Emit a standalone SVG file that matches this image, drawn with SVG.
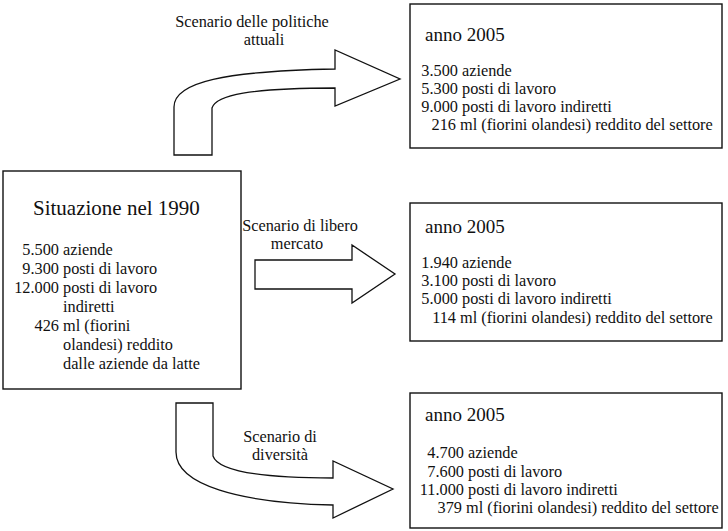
<svg xmlns="http://www.w3.org/2000/svg" width="728" height="531" viewBox="0 0 728 531">
  <style>
    .box { fill: #fff; stroke: #111; stroke-width: 1.4; }
    .arrow { fill: #fff; stroke: #111; stroke-width: 1.3; stroke-linejoin: miter; }
    text { font-family: "Liberation Serif", "Times New Roman", serif; fill: #111; }
    .title { font-size: 21px; }
    .head { font-size: 19px; }
    .body { font-size: 16.3px; }
    .label { font-size: 16.3px; text-anchor: middle; }
    .num { text-anchor: end; }
  </style>

  <rect width="728" height="531" fill="#fff"/>

  <!-- connectors: block arrows from the 1990 situation to the three scenarios -->
  <g id="connectors">
    <path class="arrow" d="M174,155 V107 C174,82 225,71 335,69 V50 L400,79 L335,106 V88 C250,88 216,95 212,108 V155 Z"/>
    <path class="arrow" d="M255,260 H352 V245 L395,274 L352,303 V289 H255 Z"/>
    <path class="arrow" d="M176,403 H213 V456 C218,471 260,478 333,478 V461 L393,489 L333,518 V505 C240,503 176,485 176,452 Z"/>
    <text class="label" x="252" y="27">Scenario delle politiche</text>
    <text class="label" x="264" y="45">attuali</text>
    <text class="label" x="300" y="231">Scenario di libero</text>
    <text class="label" x="297" y="249">mercato</text>
    <text class="label" x="280" y="442">Scenario di</text>
    <text class="label" x="280" y="460">diversità</text>
  </g>

  <!-- 1990 situation -->
  <g id="situazione-1990">
    <rect class="box" x="3" y="171" width="238" height="218"/>
    <text class="title" x="33" y="215">Situazione nel 1990</text>
    <g class="body">
      <text class="num" x="59" y="255">5.500</text><text x="63" y="255">aziende</text>
      <text class="num" x="59" y="274">9.300</text><text x="63" y="274">posti di lavoro</text>
      <text class="num" x="59" y="293">12.000</text><text x="63" y="293">posti di lavoro</text>
      <text x="63" y="312">indiretti</text>
      <text class="num" x="59" y="331">426</text><text x="63" y="331">ml (fiorini</text>
      <text x="63" y="350">olandesi) reddito</text>
      <text x="63" y="369">dalle aziende da latte</text>
    </g>
  </g>

  <!-- scenario: current policies -->
  <g id="anno-2005-politiche">
    <rect class="box" x="410" y="4" width="312" height="144"/>
    <text class="head" x="425" y="41">anno 2005</text>
    <g class="body">
      <text class="num" x="458" y="76">3.500</text><text x="462" y="76">aziende</text>
      <text class="num" x="458" y="94">5.300</text><text x="462" y="94">posti di lavoro</text>
      <text class="num" x="458" y="112">9.000</text><text x="462" y="112">posti di lavoro indiretti</text>
      <text class="num" x="456" y="130">216</text><text x="460" y="130">ml (fiorini olandesi) reddito del settore</text>
    </g>
  </g>

  <!-- scenario: free market -->
  <g id="anno-2005-mercato">
    <rect class="box" x="410" y="203" width="312" height="138"/>
    <text class="head" x="425" y="233">anno 2005</text>
    <g class="body">
      <text class="num" x="458" y="268">1.940</text><text x="462" y="268">aziende</text>
      <text class="num" x="458" y="286">3.100</text><text x="462" y="286">posti di lavoro</text>
      <text class="num" x="458" y="304">5.000</text><text x="462" y="304">posti di lavoro indiretti</text>
      <text class="num" x="456" y="323">114</text><text x="460" y="323">ml (fiorini olandesi) reddito del settore</text>
    </g>
  </g>

  <!-- scenario: diversity -->
  <g id="anno-2005-diversita">
    <rect class="box" x="410" y="393" width="312" height="135"/>
    <text class="head" x="425" y="421">anno 2005</text>
    <g class="body">
      <text class="num" x="464" y="458">4.700</text><text x="468" y="458">aziende</text>
      <text class="num" x="464" y="477">7.600</text><text x="468" y="477">posti di lavoro</text>
      <text class="num" x="464" y="495">11.000</text><text x="468" y="495">posti di lavoro indiretti</text>
      <text class="num" x="462" y="513">379</text><text x="466" y="513">ml (fiorini olandesi) reddito del settore</text>
    </g>
  </g>
</svg>
